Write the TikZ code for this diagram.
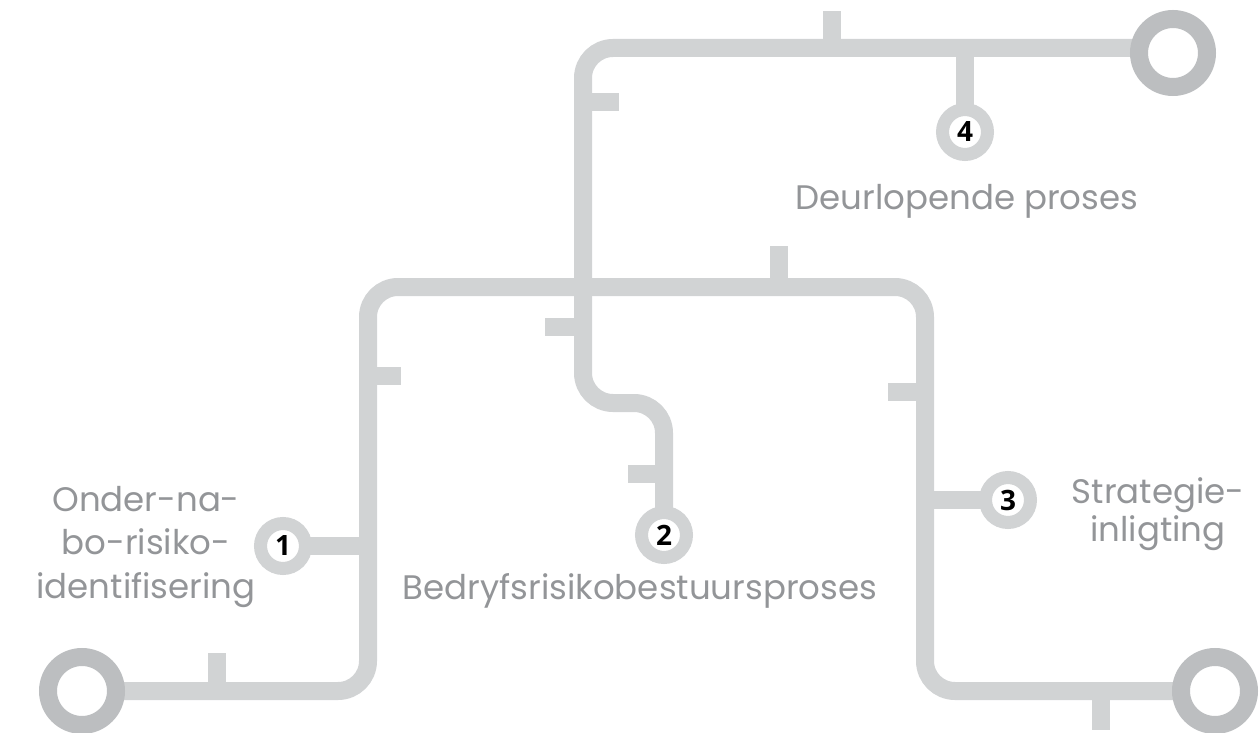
\documentclass[tikz,border=0pt]{standalone}
\usepackage{fontspec}
\setmainfont{Poppins}
\newfontfamily\numfont{Open Sans}
\definecolor{pipegray}{RGB}{209,211,212}
\definecolor{ringgray}{RGB}{188,190,192}
\definecolor{labelgray}{RGB}{147,149,152}
\begin{document}
\begin{tikzpicture}[x=1pt,y=-1pt,
  pipe/.style={draw=pipegray, line width=18pt, rounded corners=30pt},
  spur/.style={draw=pipegray, line width=18pt},
  endring/.style={circle, draw=ringgray, line width=18pt, fill=white,
    minimum size=68pt, inner sep=0pt},
  station/.style={circle, draw=pipegray, line width=13pt, fill=white,
    minimum size=45pt, inner sep=0pt,
    font=\numfont\bfseries\fontsize{28}{28}\selectfont},
  lbl/.style={text=labelgray, align=center, inner sep=0pt,
    font=\fontsize{34}{40}\selectfont}]
\useasboundingbox (0,0) rectangle (1259,733);

% end points and stations
\coordinate (pL) at (82,691);
\coordinate (pR) at (1215,691);
\coordinate (pT) at (1173,53);
\coordinate (pTline) at (1173,48);
\coordinate (p1) at (283,546);
\coordinate (p2) at (664,535);
\coordinate (p3) at (1008,500);
\coordinate (p4) at (965,132);

% bends of the two routes
\coordinate (a1) at (368,691);
\coordinate (a2) at (368,287);
\coordinate (a3) at (925,287);
\coordinate (a4) at (925,691);
\coordinate (b1) at (583,48);
\coordinate (b2) at (583,403);
\coordinate (b3) at (664,403);

% junctions of the branch lines
\coordinate (j1) at (368,546);
\coordinate (j3) at (925,500);
\coordinate (j4) at (965,48);

% route lines
\draw[pipe] (pL) -- (a1) -- (a2) -- (a3) -- (a4) -- (pR);
\draw[pipe] (pTline) -- (b1) -- (b2) -- (b3) -- (p2);

% branches to the numbered stations
\draw[spur] (p1) -- (j1);
\draw[spur] (p3) -- (j3);
\draw[spur] (p4) -- (j4);

% short ticks along the lines
\coordinate (k1a) at (217,691);  \coordinate (k1b) at (217,653);
\coordinate (k2a) at (1101,691); \coordinate (k2b) at (1101,730);
\coordinate (k3a) at (368,376);  \coordinate (k3b) at (401,376);
\coordinate (k4a) at (925,392);  \coordinate (k4b) at (888,392);
\coordinate (k5a) at (779,287);  \coordinate (k5b) at (779,246);
\coordinate (k6a) at (583,327);  \coordinate (k6b) at (545,327);
\coordinate (k7a) at (583,102);  \coordinate (k7b) at (619,102);
\coordinate (k8a) at (832,48);   \coordinate (k8b) at (832,11);
\coordinate (k9a) at (664,474);  \coordinate (k9b) at (628,474);
\foreach \k in {1,...,9} {\draw[spur] (k\k a) -- (k\k b);}

% terminal rings
\node[endring] (ringL) at (pL) {};
\node[endring] (ringR) at (pR) {};
\node[endring] (ringT) at (pT) {};

% numbered stations
\node[station] (s1) at (p1) {1};
\node[station] (s2) at (p2) {2};
\node[station] (s3) at (p3) {3};
\node[station] (s4) at (p4) {4};

% labels (base anchor of a multi-line node sits on its last line)
\node[lbl, anchor=base] (t4) at (967,210) {Deurlopende proses};
\node[lbl, anchor=base] (t2) at (640,599) {Bedryfsrisikobestuursproses};
\node[lbl, anchor=base, font=\fontsize{34}{38}\selectfont] (t3) at (1158,541) {Strategie-\\inligting};
\node[lbl, anchor=base, font=\fontsize{34}{43.5}\selectfont] (t1) at (146,598) {Onder-na-\\bo-risiko-\\identifisering};
\end{tikzpicture}
\end{document}
